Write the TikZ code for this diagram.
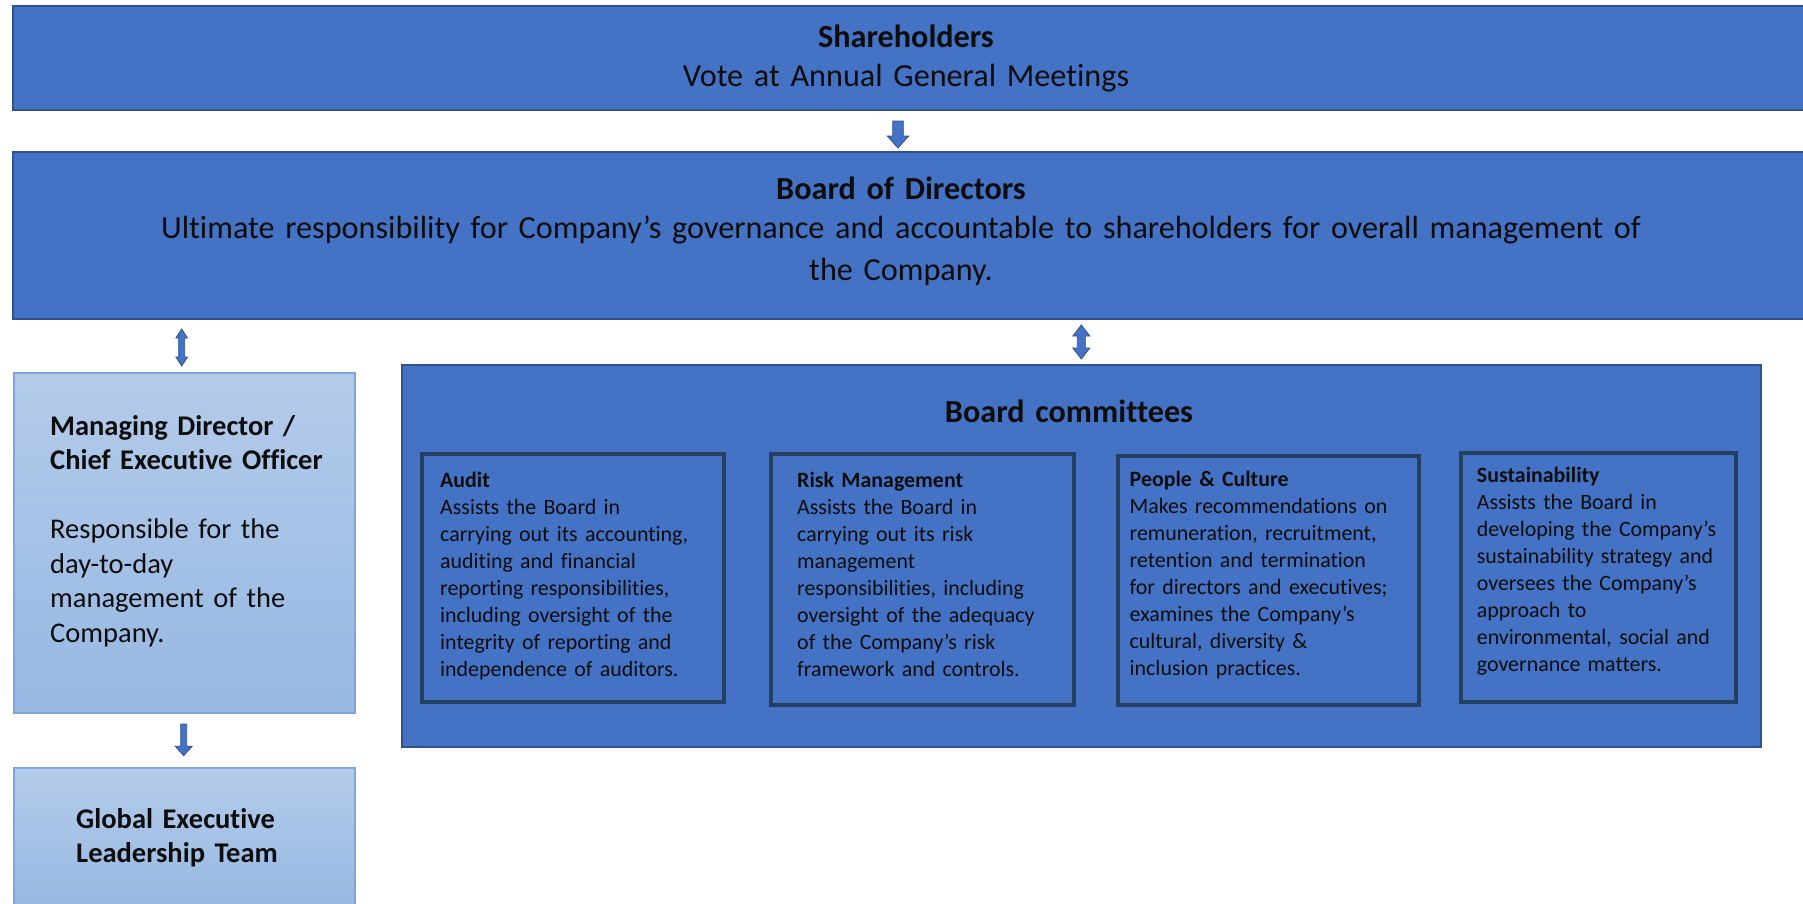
\documentclass[tikz,border=0pt]{standalone}
\usepackage{fontspec}
\setmainfont{Carlito}[Ligatures=NoCommon]
\definecolor{accent}{HTML}{4472C4}
\definecolor{accdark}{HTML}{2F528F}
\definecolor{innerdark}{HTML}{243F60}
\definecolor{lighttop}{HTML}{B4CBEA}
\definecolor{lightbot}{HTML}{96B8E3}
\definecolor{lightedge}{HTML}{7EA6DD}
\definecolor{ink}{HTML}{0D0D0D}
% block arrows: centre x, top y, bottom y, shaft half width, head half width, head length
\newcommand{\blockdownarrow}[6]{%
  \draw[blockarrow] (#1-#4,#2) -- (#1+#4,#2) -- (#1+#4,#3-#6) -- (#1+#5,#3-#6) -- (#1,#3)
    -- (#1-#5,#3-#6) -- (#1-#4,#3-#6) -- cycle;}
\newcommand{\blockupdownarrow}[6]{%
  \draw[blockarrow] (#1,#2) -- (#1+#5,#2+#6) -- (#1+#4,#2+#6) -- (#1+#4,#3-#6) -- (#1+#5,#3-#6)
    -- (#1,#3) -- (#1-#5,#3-#6) -- (#1-#4,#3-#6) -- (#1-#4,#2+#6) -- (#1-#5,#2+#6) -- cycle;}
\begin{document}
\begin{tikzpicture}[x=1pt,y=-1pt,
  bluebox/.style={draw=accdark, fill=accent, line width=1.2pt, inner sep=0pt, outer sep=0pt, anchor=north west},
  lightbox/.style={draw=lightedge, top color=lighttop, bottom color=lightbot, line width=1.3pt, inner sep=0pt, outer sep=0pt, anchor=north west},
  combox/.style={draw=innerdark, line width=3.5pt, inner sep=0pt, outer sep=0pt, anchor=north west},
  toptext/.style={text=ink, inner sep=0pt, anchor=base, text width=1700pt, align=center, font=\fontsize{32.2}{39}\selectfont},
  sidetext/.style={text=ink, inner sep=0pt, anchor=base west, text width=320pt, align=left, font=\fontsize{28.5}{34.5}\selectfont},
  comtext/.style={text=ink, inner sep=0pt, anchor=base west, text width=300pt, align=left, font=\fontsize{21.9}{27}\selectfont},
  blockarrow/.style={draw=accdark, fill=accent, line width=0.8pt, line join=miter}]
\useasboundingbox (0,0) rectangle (1803,903);

% boxes
\node[bluebox, minimum width=1795pt, minimum height=104pt] (sh) at (13,6) {};
\node[bluebox, minimum width=1795pt, minimum height=167pt] (bd) at (13,152) {};
\node[lightbox, minimum width=341pt, minimum height=340pt] (md) at (14,373) {};
\node[lightbox, minimum width=341pt, minimum height=145pt] (gelt) at (14,768) {};
\node[bluebox, minimum width=1359pt, minimum height=382pt] (bc) at (402,365) {};
\node[combox, minimum width=302pt, minimum height=248pt] (audit) at (421.75,453.75) {};
\node[combox, minimum width=303pt, minimum height=251pt] (risk) at (770.75,453.75) {};
\node[combox, minimum width=301pt, minimum height=249pt] (people) at (1117.75,455.75) {};
\node[combox, minimum width=275pt, minimum height=249pt] (sust) at (1460.75,452.75) {};

% block arrows between the boxes
\blockdownarrow{898}{121}{148}{5.3}{10.7}{12}
\blockupdownarrow{181.7}{329}{366}{3}{5.8}{9}
\blockupdownarrow{1081.3}{325}{359}{4}{8.5}{11}
\blockdownarrow{183.7}{724}{755.7}{3}{8.5}{9.5}

% texts
\node[toptext] (shT) at (906,47) {\textbf{Shareholders}\\Vote at Annual General Meetings};
\node[toptext] (bdT) at (901,199) {\textbf{Board of Directors}\\Ultimate responsibility for Company’s governance and accountable to shareholders for overall management of\\[3.5pt]the Company.};
\node[toptext, text width=400pt] (bcT) at (1069,422) {\textbf{Board committees}};
\node[sidetext] (mdT) at (50,435) {\textbf{Managing Director /}\\\textbf{Chief Executive Officer}\\[34.5pt]Responsible for the\\day-to-day\\management of the\\Company.};
\node[sidetext] (geltT) at (76,828) {\textbf{Global Executive}\\\textbf{Leadership Team}};
\node[comtext] (auditT) at (440,487) {\textbf{Audit}\\Assists the Board in\\carrying out its accounting,\\auditing and financial\\reporting responsibilities,\\including oversight of the\\integrity of reporting and\\independence of auditors.};
\node[comtext] (riskT) at (797,487) {\textbf{Risk Management}\\Assists the Board in\\carrying out its risk\\management\\responsibilities, including\\oversight of the adequacy\\of the Company’s risk\\framework and controls.};
\node[comtext] (peopleT) at (1129.5,486) {\textbf{People \& Culture}\\Makes recommendations on\\remuneration, recruitment,\\retention and termination\\for directors and executives;\\examines the Company’s\\cultural, diversity \&\\inclusion practices.};
\node[comtext] (sustT) at (1476.7,482) {\textbf{Sustainability}\\Assists the Board in\\developing the Company’s\\sustainability strategy and\\oversees the Company’s\\approach to\\environmental, social and\\governance matters.};
\end{tikzpicture}
\end{document}
